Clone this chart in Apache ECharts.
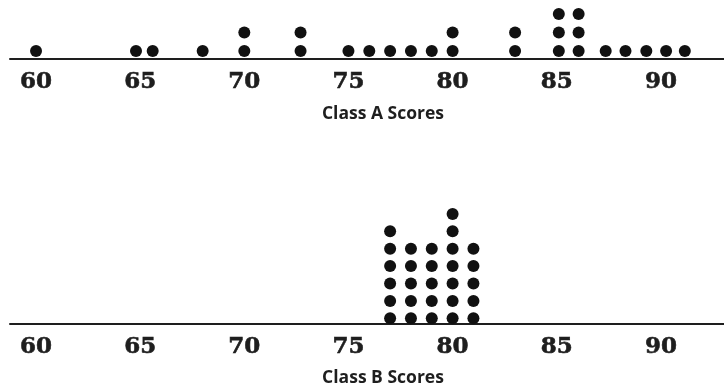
<!DOCTYPE html>
<html>
<head>
<meta charset="utf-8">
<script src="https://cdn.jsdelivr.net/npm/echarts@6/dist/echarts.min.js"></script>
<style>
html,body{margin:0;padding:0;background:#fff;}
#chart{width:724px;height:387px;}
</style>
</head>
<body>
<div id="chart"></div>
<script>
// Class A: score positions and number of stacked dots at each
const classAScores = [60, 64.8, 65.6, 68, 70, 72.7, 75, 76, 77, 78, 79, 80, 83, 85.1, 86.05, 87.35, 88.3, 89.3, 90.25, 91.15];
const classACounts = [1, 1, 1, 1, 2, 2, 1, 1, 1, 1, 1, 2, 2, 3, 3, 1, 1, 1, 1, 1];
// Class B
const classBScores = [77, 78, 79, 80, 81];
const classBCounts = [6, 5, 5, 7, 5];
// Axis tick labels
const tickLabels = [60, 65, 70, 75, 80, 85, 90];
const titleA = 'Class A Scores';
const titleB = 'Class B Scores';

function stackPoints(scores, counts) {
  const pts = [];
  scores.forEach((s, i) => {
    for (let k = 1; k <= counts[i]; k++) pts.push([s, k]);
  });
  return pts;
}

const chart = echarts.init(document.getElementById('chart'), null, {renderer: 'canvas'});
const xMin = 58.75, xMax = 93.03;
function makeX(gridIndex) {
  return {
    type: 'value', gridIndex: gridIndex, min: xMin, max: xMax,
    splitLine: {show: false},
    axisTick: {show: false},
    axisLine: {show: true, onZero: false, lineStyle: {color: '#1e1e1e', width: 2}},
    axisLabel: {
      customValues: tickLabels,
      color: '#1e1e1e', fontFamily: 'DejaVu Serif', fontWeight: 'bold', fontSize: 23,
      textBorderColor: '#1e1e1e', textBorderWidth: 0.6,
      margin: 12
    }
  };
}
function makeY(gridIndex, min, max) {
  return {type: 'value', gridIndex: gridIndex, min: min, max: max, show: false,
    splitLine: {show: false}};
}
const dotStyle = {color: '#111', opacity: 1};
chart.setOption({
  animation: false,
  backgroundColor: '#fff',
  grid: [
    {left: 10, right: 0, top: 0, height: 59},
    {left: 10, right: 0, top: 200, height: 124}
  ],
  xAxis: [makeX(0), makeX(1)],
  yAxis: [makeY(0, 0.568, 3.757), makeY(1, 0.672, 7.799)],
  series: [
    {type: 'scatter', xAxisIndex: 0, yAxisIndex: 0, symbolSize: 12, clip: false,
     itemStyle: dotStyle, data: stackPoints(classAScores, classACounts)},
    {type: 'scatter', xAxisIndex: 1, yAxisIndex: 1, symbolSize: 12, clip: false,
     itemStyle: dotStyle, data: stackPoints(classBScores, classBCounts)}
  ],
  graphic: [
    {type: 'text', x: 383, y: 114, style: {text: titleA, fill: '#1e1e1e', font: 'bold 17.5px "Open Sans"', align: 'center', verticalAlign: 'middle'}},
    {type: 'text', x: 383, y: 378, style: {text: titleB, fill: '#1e1e1e', font: 'bold 17.5px "Open Sans"', align: 'center', verticalAlign: 'middle'}}
  ]
});
</script>
</body>
</html>
